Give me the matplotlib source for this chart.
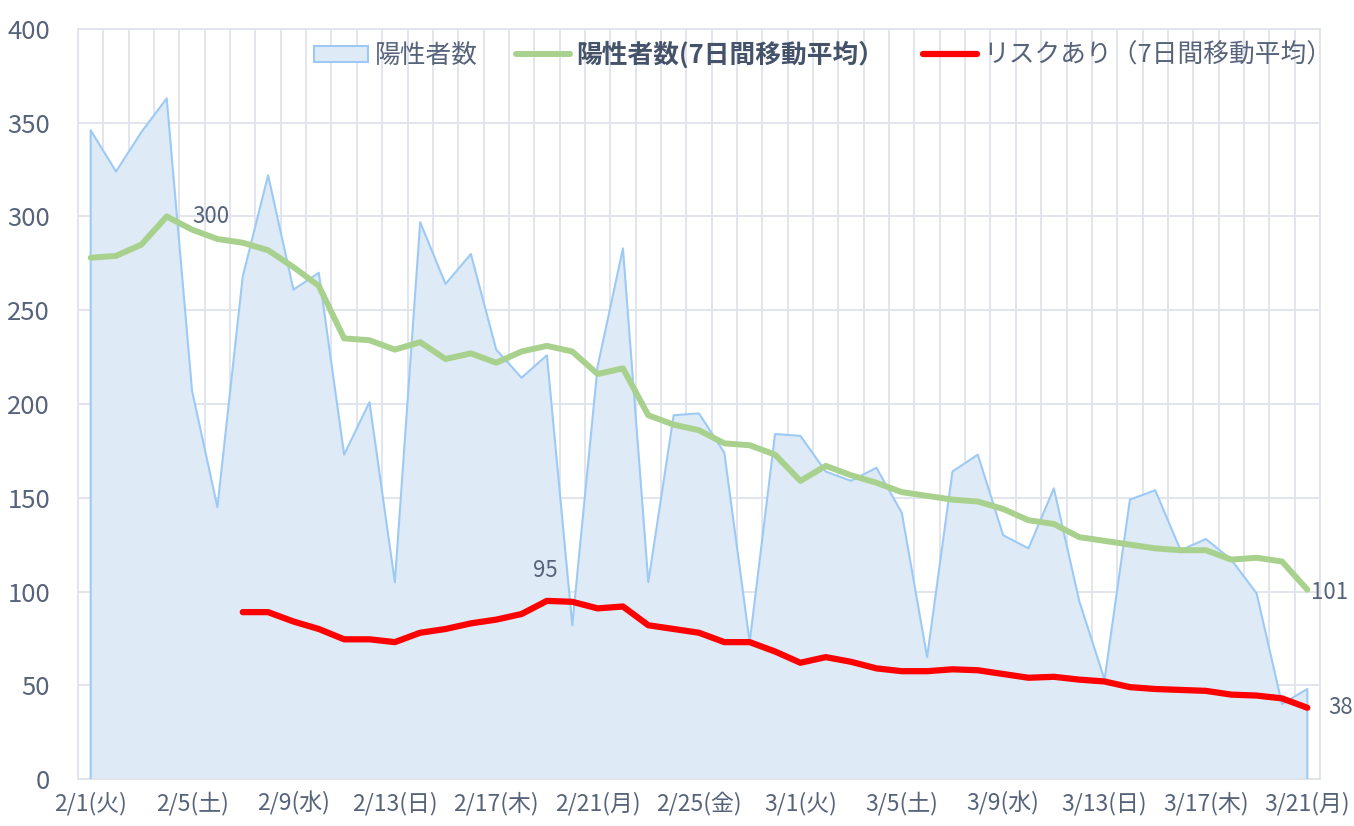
import matplotlib as mpl
mpl.use('Agg')
import matplotlib.pyplot as plt
from matplotlib.patches import Patch
from matplotlib.lines import Line2D
import numpy as np
import pandas as pd

plt.rcParams['font.family'] = ['Noto Sans CJK JP', 'DejaVu Sans']

dates = pd.date_range('2022-02-01', '2022-03-21')
youbi = ['月', '火', '水', '木', '金', '土', '日']
labels = [f"{d.month}/{d.day}({youbi[d.weekday()]})" for d in dates]

positive = [346, 324, 345, 363, 207, 145, 268, 322, 261, 270,
            173, 201, 105, 297, 264, 280, 229, 214, 226, 82,
            220, 283, 105, 194, 195, 174, 73, 184, 183, 164,
            159, 166, 142, 65, 164, 173, 130, 123, 155, 95,
            53, 149, 154, 122, 128, 117, 99, 40, 48]
avg7 = [278, 279, 285, 300, 293, 288, 286, 282, 273, 263,
        235, 234, 229, 233, 224, 227, 222, 228, 231, 228,
        216, 219, 194, 189, 186, 179, 178, 173, 159, 167,
        162, 158, 153, 151, 149, 148, 144, 138, 136, 129,
        127, 125, 123, 122, 122, 117, 118, 116, 101]
risk7 = [None] * 6 + [89, 89, 84, 80, 74.5, 74.5, 73, 78, 80, 83,
                      85, 88, 95, 94.5, 91, 92, 82, 80, 78, 73,
                      73, 68, 62, 65, 62.5, 59, 57.5, 57.5, 58.5, 58,
                      56, 54, 54.5, 53, 52, 49, 48, 47.5, 47, 45,
                      44.5, 43, 38]

txt = '#56637a'
grid_c = '#dfe3eb'

x = np.arange(len(dates))
risk = np.array([np.nan if v is None else v for v in risk7], dtype=float)

fig = plt.figure(figsize=(13.54, 8.26), dpi=100)
ax = fig.add_axes([78/1354, 47/826, 1242/1354, 750/826])

ax.fill_between(x, positive, 0, color='#deeaf6', zorder=2, linewidth=0)
ax.plot(np.r_[x[0], x, x[-1]], np.r_[0, positive, 0], color='#9dcaf5',
        linewidth=1.5, zorder=3)
ax.plot(x, avg7, color='#a9d18e', linewidth=4.3, zorder=4, solid_capstyle='round')
ax.plot(x, risk, color='#ff0000', linewidth=4.5, zorder=5, solid_capstyle='round')

ax.set_xlim(-0.5, len(x) - 0.5)
ax.set_ylim(0, 400)
ax.set_yticks(range(0, 401, 50))
ax.set_xticks(x[::4])
ax.set_xticklabels(labels[::4])
ax.set_xticks(np.arange(-0.5, len(x)), minor=True)
ax.grid(axis='y', color=grid_c, linewidth=1.3, zorder=0)
ax.grid(axis='x', which='minor', color=grid_c, linewidth=1.3, zorder=0)
ax.grid(axis='x', which='major', visible=False)
ax.set_axisbelow(True)
ax.tick_params(which='both', length=0)
ax.tick_params(axis='y', labelsize=18.5, colors=txt, pad=20)
ax.tick_params(axis='x', labelsize=16.5, colors=txt, pad=9)
for s in ax.spines.values():
    s.set_color(grid_c)
    s.set_linewidth(1.3)

ax.annotate('300', (3, avg7[3]), xytext=(32, 0), textcoords='offset points',
            ha='center', va='center', fontsize=16, color=txt)
ax.annotate('95', (18, risk[18]), xytext=(-1, 22), textcoords='offset points',
            ha='center', va='center', fontsize=16, color=txt)
ax.annotate('101', (48, avg7[48]), xytext=(3, -2), textcoords='offset points',
            ha='left', va='center', fontsize=16, color=txt, annotation_clip=False)
ax.annotate('38', (48, risk[48]), xytext=(15, 0), textcoords='offset points',
            ha='left', va='center', fontsize=16, color=txt, annotation_clip=False)

handles = [Patch(facecolor='#deeaf6', edgecolor='#9dcaf5', linewidth=1.5),
           Line2D([], [], color='#a9d18e', linewidth=4.3, solid_capstyle='round'),
           Line2D([], [], color='#ff0000', linewidth=4.5, solid_capstyle='round')]
names = ['陽性者数', '陽性者数(7日間移動平均）', 'リスクあり（7日間移動平均）']
leg = ax.legend(handles, names, loc='center', bbox_to_anchor=(0.6, 0.965), ncol=3,
                frameon=False, fontsize=18.5, handlelength=2.1, handleheight=0.6,
                columnspacing=1.5, handletextpad=0.25)
for t in leg.get_texts():
    t.set_color(txt)
leg.get_texts()[1].set_fontweight('bold')
leg.get_texts()[1].set_color('#44526a')

fig.savefig('out.png', dpi=100)
